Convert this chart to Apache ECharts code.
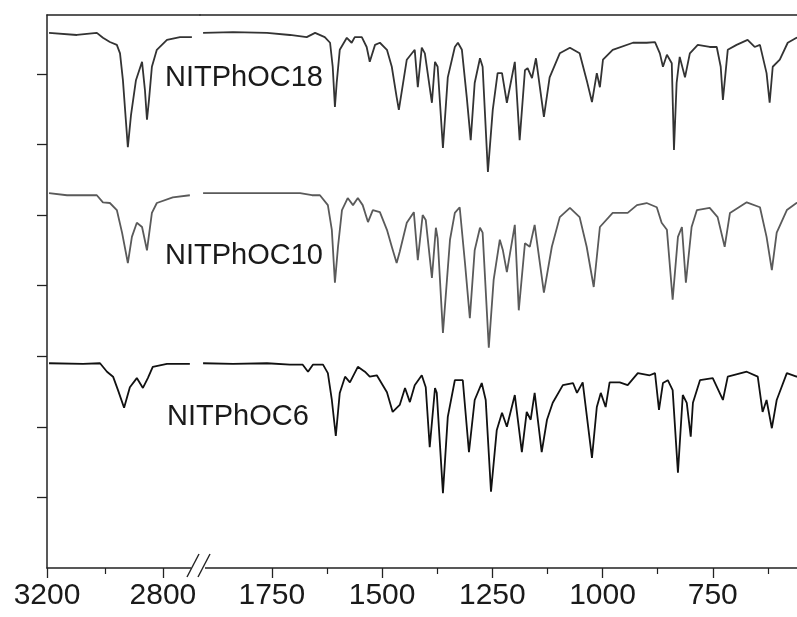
<!DOCTYPE html>
<html>
<head>
<meta charset="utf-8">
<script src="https://cdn.jsdelivr.net/npm/echarts@6/dist/echarts.min.js"></script>
<style>
html,body{margin:0;padding:0;background:#fff;}
#chart{width:797px;height:617px;}
</style>
</head>
<body>
<div id="chart"></div>
<script>
// ---- Data (wavenumber cm-1, offset transmittance) ----
const highTicks = [3200, 2800];
const highMinorTicks = [3000];
const lowTicks = [1750, 1500, 1250, 1000, 750, 500];
const lowMinorTicks = [1625, 1375, 1125, 875, 625];
const yTicks = [1, 2, 3, 4, 5, 6, 7];
const seriesNames = ['NITPhOC18', 'NITPhOC10', 'NITPhOC6'];

const c18High = [[3193,7.58],[3097,7.55],[3028,7.58],[3007,7.51],[2983,7.45],[2959,7.41],[2948,7.29],[2938,6.91],[2928,6.35],[2921,5.96],[2910,6.42],[2893,6.91],[2872,7.17],[2862,6.77],[2855,6.35],[2848,6.63],[2838,7.10],[2821,7.34],[2786,7.48],[2741,7.52],[2700,7.52]];
const c18Low = [[1906,7.58],[1838,7.59],[1761,7.58],[1709,7.55],[1671,7.52],[1652,7.58],[1630,7.52],[1618,7.44],[1612,7.10],[1607,6.53],[1603,6.87],[1596,7.34],[1580,7.51],[1569,7.44],[1562,7.52],[1546,7.52],[1535,7.38],[1528,7.17],[1516,7.41],[1505,7.44],[1489,7.34],[1478,7.10],[1467,6.67],[1462,6.49],[1444,7.20],[1426,7.34],[1419,6.81],[1410,7.37],[1403,7.29],[1387,6.59],[1380,7.17],[1374,7.10],[1362,5.95],[1351,6.95],[1335,7.38],[1328,7.44],[1319,7.34],[1308,6.67],[1299,6.06],[1290,6.87],[1278,7.22],[1272,7.10],[1260,5.61],[1249,6.49],[1238,7.01],[1228,7.01],[1217,6.59],[1199,7.17],[1188,6.06],[1176,7.05],[1170,7.08],[1160,6.94],[1151,7.22],[1133,6.39],[1120,6.95],[1097,7.29],[1074,7.37],[1052,7.29],[1036,6.91],[1024,6.60],[1013,7.01],[1006,6.81],[999,7.20],[977,7.34],[931,7.44],[900,7.44],[881,7.45],[870,7.29],[863,7.10],[854,7.27],[843,7.15],[838,5.92],[832,6.87],[825,7.24],[813,6.95],[802,7.29],[784,7.41],[757,7.38],[741,7.38],[732,7.10],[727,6.63],[716,7.34],[696,7.41],[671,7.48],[655,7.38],[643,7.41],[628,7.01],[621,6.59],[614,7.10],[598,7.20],[580,7.44],[560,7.51],[540,7.55]];

const c10High = [[3193,5.31],[3131,5.28],[3028,5.28],[3007,5.18],[2983,5.17],[2959,5.07],[2941,4.75],[2921,4.32],[2907,4.69],[2890,4.89],[2872,4.83],[2855,4.50],[2838,5.03],[2821,5.17],[2766,5.25],[2707,5.28]];
const c10Low = [[1906,5.31],[1838,5.31],[1761,5.31],[1686,5.31],[1659,5.28],[1641,5.28],[1623,5.14],[1614,4.79],[1607,4.04],[1600,4.55],[1591,5.07],[1578,5.24],[1566,5.14],[1555,5.24],[1544,5.14],[1532,4.90],[1521,5.07],[1505,5.04],[1489,4.79],[1478,4.55],[1467,4.32],[1460,4.48],[1444,4.89],[1428,5.04],[1419,4.36],[1408,5.00],[1401,4.93],[1387,4.11],[1378,4.82],[1374,4.67],[1362,3.33],[1346,4.65],[1335,5.03],[1324,5.11],[1312,4.32],[1301,3.54],[1290,4.50],[1278,4.82],[1272,4.75],[1258,3.12],[1247,4.08],[1233,4.65],[1226,4.50],[1217,4.19],[1199,4.86],[1190,3.65],[1176,4.60],[1165,4.55],[1154,4.86],[1133,3.90],[1115,4.55],[1097,4.97],[1074,5.10],[1052,4.97],[1036,4.55],[1020,3.98],[1006,4.83],[977,5.03],[943,5.03],[922,5.14],[900,5.17],[877,5.11],[866,4.89],[854,4.79],[841,3.80],[829,4.69],[820,4.83],[811,4.04],[798,4.83],[786,5.07],[757,5.10],[739,4.97],[723,4.55],[711,5.03],[673,5.18],[643,5.11],[628,4.69],[616,4.22],[605,4.75],[582,5.07],[560,5.17],[540,5.22]];

const c6High = [[3193,2.90],[3076,2.89],[3017,2.90],[2993,2.78],[2972,2.71],[2955,2.52],[2934,2.27],[2914,2.56],[2890,2.69],[2869,2.55],[2852,2.69],[2835,2.85],[2786,2.89],[2707,2.89]];
const c6Low = [[1906,2.90],[1838,2.89],[1761,2.90],[1709,2.88],[1680,2.88],[1668,2.78],[1657,2.88],[1634,2.88],[1623,2.76],[1614,2.38],[1605,1.87],[1596,2.48],[1584,2.71],[1573,2.63],[1555,2.85],[1539,2.78],[1528,2.71],[1512,2.73],[1489,2.49],[1476,2.21],[1460,2.31],[1448,2.55],[1437,2.35],[1426,2.59],[1410,2.73],[1401,2.56],[1392,1.71],[1380,2.55],[1376,2.48],[1362,1.06],[1351,2.14],[1335,2.66],[1317,2.66],[1303,1.64],[1290,2.38],[1274,2.62],[1265,2.38],[1253,1.08],[1240,1.95],[1228,2.20],[1217,2.00],[1199,2.45],[1183,1.64],[1172,2.21],[1163,2.10],[1154,2.48],[1138,1.64],[1126,2.10],[1113,2.34],[1090,2.59],[1067,2.62],[1058,2.48],[1045,2.63],[1024,1.56],[1013,2.28],[1004,2.48],[993,2.28],[984,2.63],[961,2.63],[943,2.59],[920,2.76],[893,2.73],[881,2.76],[872,2.24],[863,2.62],[852,2.66],[841,2.52],[829,1.35],[818,2.45],[809,2.34],[800,1.86],[795,2.34],[779,2.66],[750,2.69],[727,2.38],[716,2.71],[673,2.78],[648,2.71],[637,2.21],[628,2.38],[616,1.98],[605,2.38],[582,2.76],[560,2.71],[540,2.75]];

// ---- Chart ----
const FONT = '"Liberation Sans", Arial, sans-serif';
const AX = '#222';
const chart = echarts.init(document.getElementById('chart'), null, {renderer: 'canvas'});

const highRange = {min: 2672, max: 3200};
const lowRange = {min: 500, max: 1913};
const yRange = {min: 0, max: 7.833};

function bottomMajor(grid, range, ticks) {
  return {
    type: 'value', gridIndex: grid, position: 'bottom', inverse: true,
    min: range.min, max: range.max,
    axisLine: {show: true, onZero: false, lineStyle: {color: AX, width: 1.5}},
    axisTick: {show: true, inside: false, length: 10, customValues: ticks, lineStyle: {color: AX, width: 1.3}},
    axisLabel: {show: true, customValues: ticks, margin: 13, fontSize: 30, fontFamily: FONT, color: '#1a1a1a',
      showMinLabel: true, showMaxLabel: true, hideOverlap: false, formatter: function (v) { return String(v); }},
    splitLine: {show: false}
  };
}
function bottomMinor(grid, range, ticks) {
  return {
    type: 'value', gridIndex: grid, position: 'bottom', inverse: true,
    min: range.min, max: range.max,
    axisLine: {show: false, onZero: false},
    axisTick: {show: true, inside: false, length: 6, customValues: ticks, lineStyle: {color: AX, width: 1.2}},
    axisLabel: {show: false},
    splitLine: {show: false}
  };
}
function topBorder(grid, range) {
  return {
    type: 'value', gridIndex: grid, position: 'top', inverse: true,
    min: range.min, max: range.max,
    axisLine: {show: true, onZero: false, lineStyle: {color: AX, width: 1.5}},
    axisTick: {show: false}, axisLabel: {show: false}, splitLine: {show: false}
  };
}

const lineColors = ['#333', '#5a5a5a', '#111'];
function trace(name, data, xi, yi, color) {
  return {
    name: name, type: 'line', data: data, xAxisIndex: xi, yAxisIndex: yi,
    showSymbol: false, symbol: 'none', smooth: false, silent: true,
    lineStyle: {color: color, width: 1.8}, z: 3
  };
}

const option = {
  animation: false,
  backgroundColor: '#fff',
  grid: [
    {left: 47, top: 15, width: 153, bottom: 49, containLabel: false, outerBoundsMode: 'none'},
    {left: 200, top: 15, width: 623, bottom: 49, containLabel: false, outerBoundsMode: 'none'}
  ],
  xAxis: [
    bottomMajor(0, highRange, highTicks),
    bottomMinor(0, highRange, highMinorTicks),
    topBorder(0, highRange),
    bottomMajor(1, lowRange, lowTicks),
    bottomMinor(1, lowRange, lowMinorTicks),
    topBorder(1, lowRange)
  ],
  yAxis: [
    {
      type: 'value', gridIndex: 0, position: 'left', min: yRange.min, max: yRange.max,
      axisLine: {show: true, onZero: false, lineStyle: {color: AX, width: 1.5}},
      axisTick: {show: true, inside: false, length: 10, customValues: yTicks, lineStyle: {color: AX, width: 1.3}},
      axisLabel: {show: false}, splitLine: {show: false}
    },
    {
      type: 'value', gridIndex: 1, min: yRange.min, max: yRange.max, show: false,
      splitLine: {show: false}
    }
  ],
  series: [
    trace(seriesNames[0], c18High, 0, 0, lineColors[0]),
    trace(seriesNames[0], c18Low, 3, 1, lineColors[0]),
    trace(seriesNames[1], c10High, 0, 0, lineColors[1]),
    trace(seriesNames[1], c10Low, 3, 1, lineColors[1]),
    trace(seriesNames[2], c6High, 0, 0, lineColors[2]),
    trace(seriesNames[2], c6Low, 3, 1, lineColors[2])
  ],
  graphic: [
    {type: 'rect', z: 100, shape: {x: 191, y: 564, width: 14, height: 8}, style: {fill: '#fff'}},
    {type: 'line', z: 101, shape: {x1: 187, y1: 577, x2: 199, y2: 554}, style: {stroke: AX, lineWidth: 1.4}},
    {type: 'line', z: 101, shape: {x1: 198, y1: 577, x2: 210, y2: 554}, style: {stroke: AX, lineWidth: 1.4}},
    {type: 'text', z: 101, x: 165, y: 78, style: {text: seriesNames[0], font: '29px ' + FONT, fill: '#1a1a1a', verticalAlign: 'middle', textVerticalAlign: 'middle'}},
    {type: 'text', z: 101, x: 165, y: 256, style: {text: seriesNames[1], font: '29px ' + FONT, fill: '#1a1a1a', verticalAlign: 'middle', textVerticalAlign: 'middle'}},
    {type: 'text', z: 101, x: 167, y: 417, style: {text: seriesNames[2], font: '29px ' + FONT, fill: '#1a1a1a', verticalAlign: 'middle', textVerticalAlign: 'middle'}}
  ]
};
chart.setOption(option);
</script>
</body>
</html>
